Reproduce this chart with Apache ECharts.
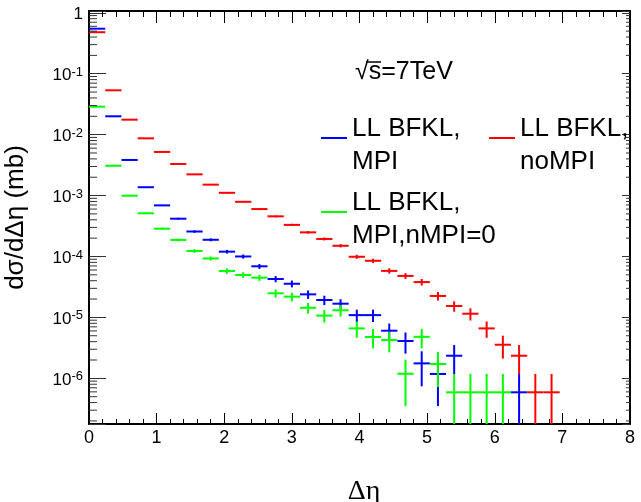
<!DOCTYPE html>
<html><head><meta charset="utf-8">
<script src="https://cdn.jsdelivr.net/npm/echarts@6/dist/echarts.min.js"></script>
<style>html,body{margin:0;padding:0;background:#fff}#c{width:641px;height:502px}</style>
</head><body><div id="c"></div>
<script>
// ---- data ----
const binCenters = [0.12,0.36,0.60,0.84,1.08,1.32,1.56,1.80,2.04,2.28,2.52,2.76,3.00,3.24,3.48,3.72,3.96,4.20,4.44,4.68,4.92,5.16,5.40,5.64,5.88,6.12,6.36,6.60,6.84];
const binHalfWidth = 0.12;
const seriesNames = ['LL BFKL,\nMPI', 'LL BFKL,\nnoMPI', 'LL BFKL,\nMPI,nMPI=0'];

const mpiValues = [0.548,0.0200,0.00384,0.00137,0.00069,0.000417,0.000257,0.000188,0.00012,0.0001,6.9e-5,4.27e-5,3.57e-5,2.39e-5,1.93e-5,1.68e-5,1.09e-5,1.09e-5,6.05e-6,4.1e-6,1.76e-6,1.18e-6,2.35e-6,null,null,null,5.9e-7,null,null];
const mpiErrors = [5.7e-4,1.09e-4,4.8e-5,2.8e-5,2.0e-5,1.57e-5,1.23e-5,1.05e-5,8.4e-6,7.7e-6,6.4e-6,5.0e-6,4.6e-6,3.8e-6,3.4e-6,3.1e-6,2.5e-6,2.5e-6,1.89e-6,1.56e-6,1.02e-6,8.3e-7,1.18e-6,null,null,null,5.9e-7,null,null];

const noMpiValues = [0.48,0.0534,0.0176,0.0087,0.0052,0.0033,0.00223,0.00151,0.00111,0.00079,0.0006,0.000456,0.00033,0.000249,0.000194,0.00015,9.9e-5,8.5e-5,5.8e-5,4.8e-5,3.8e-5,2.25e-5,1.54e-5,1.15e-5,6.6e-6,3.56e-6,2.35e-6,5.9e-7,5.9e-7];
const noMpiErrors = [5.3e-4,1.77e-4,1.02e-4,7.2e-5,5.5e-5,4.4e-5,3.6e-5,3.0e-5,2.56e-5,2.16e-5,1.88e-5,1.64e-5,1.4e-5,1.21e-5,1.07e-5,9.4e-6,7.6e-6,7.1e-6,5.8e-6,5.3e-6,4.7e-6,3.6e-6,3.0e-6,2.6e-6,1.97e-6,1.45e-6,1.18e-6,5.9e-7,5.9e-7];

const nMpi0Values = [0.0288,0.00309,0.000995,0.000512,0.000286,0.000187,0.000123,9.27e-5,5.78e-5,4.97e-5,4.49e-5,2.49e-5,2.19e-5,1.44e-5,1.07e-5,1.31e-5,6.6e-6,4.77e-6,4.25e-6,1.19e-6,4.8e-6,1.72e-6,5.9e-7,5.9e-7,5.9e-7,5.9e-7,null,null,null];
const nMpi0Errors = [1.3e-4,4.3e-5,2.4e-5,1.74e-5,1.3e-5,1.05e-5,8.5e-6,7.4e-6,5.8e-6,5.4e-6,5.1e-6,3.8e-6,3.6e-6,2.9e-6,2.5e-6,2.8e-6,1.97e-6,1.68e-6,1.58e-6,8.4e-7,1.68e-6,1.0e-6,5.9e-7,5.9e-7,5.9e-7,5.9e-7,null,null,null];

const xTickLabels = ['0','1','2','3','4','5','6','7','8'];
const yDecadeExponents = [-6,-5,-4,-3,-2,-1,0];
const X_MIN = 0, X_MAX = 8;
const Y_MIN = 1.78e-7, Y_MAX = 1.07;

// minor log ticks 2..9 x 10^n
const yMinorTicks = [];
for (let d = -7; d <= -1; d++) for (let m = 2; m <= 9; m++) {
  const t = m * Math.pow(10, d);
  if (t > Y_MIN && t < Y_MAX) yMinorTicks.push(t);
}

function buildData(vals, errs) {
  const out = [];
  for (let i = 0; i < binCenters.length; i++) if (vals[i] != null) out.push([binCenters[i], vals[i], errs[i]]);
  return out;
}

function pointRenderer(color) {
  return function (params, api) {
    const x = api.value(0), v = api.value(1), e = api.value(2);
    const l = api.coord([x - binHalfWidth, v]);
    const r = api.coord([x + binHalfWidth, v]);
    const top = api.coord([x, Math.min(v + e, Y_MAX)]);
    const low = v - e;
    const bot = api.coord([x, low > Y_MIN ? low : Y_MIN]);
    return { type: 'group', children: [
      { type: 'line', shape: { x1: l[0], y1: l[1], x2: r[0], y2: r[1] }, style: { stroke: color, lineWidth: 2 } },
      { type: 'line', shape: { x1: top[0], y1: top[1], x2: bot[0], y2: bot[1] }, style: { stroke: color, lineWidth: 2 } }
    ]};
  };
}

const FONT = 'Liberation Sans, Arial, Helvetica, sans-serif';

function yLabel(val) {
  const lg = Math.log10(val);
  const ex = Math.round(lg);
  if (Math.abs(lg - ex) > 1e-6 || yDecadeExponents.indexOf(ex) < 0) return '';
  if (ex === 0) return '{b|1}';
  return '{b|10}{s|' + ex + '}';
}

const legendCommon = {
  orient: 'vertical', padding: 0, icon: 'rect', itemWidth: 26, itemHeight: 2,
  selectedMode: false,
  formatter: function (name) {
    return '{sp| }\n' + name.split('\n').map(function (s) { return '{t|' + s + '}'; }).join('\n');
  },
  textStyle: { fontSize: 26, fontFamily: FONT, color: '#000',
    rich: { sp: { fontSize: 2, lineHeight: 14 }, t: { fontSize: 26, lineHeight: 33, fontFamily: FONT, color: '#000' } } }
};

const chart = echarts.init(document.getElementById('c'), null, { renderer: 'canvas' });
chart.setOption({
  backgroundColor: '#fff',
  animation: false,
  textStyle: { fontFamily: FONT },
  grid: { left: 89, right: 11, top: 11, bottom: 78, containLabel: false, outerBoundsMode: 'none' },
  legend: [
    Object.assign({}, legendCommon, { left: 321, top: 104, data: [seriesNames[0]] }),
    Object.assign({}, legendCommon, { left: 489, top: 104, data: [seriesNames[1]] }),
    Object.assign({}, legendCommon, { left: 321, top: 178, data: [seriesNames[2]] })
  ],
  graphic: [
    { type: 'text', left: 355, top: 60, style: { text: '√s=7TeV', fontSize: 25, fontFamily: FONT, fill: '#000' } },
    { type: 'line', shape: { x1: 366, y1: 62, x2: 381, y2: 62 }, style: { stroke: '#000', lineWidth: 1.5 } }
  ],
  xAxis: [
    { type: 'value', position: 'bottom', min: X_MIN, max: X_MAX, interval: 1,
      axisLine: { show: true, onZero: false, lineStyle: { color: '#000', width: 2 } },
      axisTick: { show: true, inside: true, length: 11, lineStyle: { color: '#000', width: 1 } },
      minorTick: { show: true, splitNumber: 5, length: 5, lineStyle: { color: '#000', width: 1 } },
      splitLine: { show: false },
      axisLabel: { show: true, margin: 5, fontSize: 18, color: '#000', fontFamily: FONT,
        formatter: function (v) { const i = Math.round(v); return (Math.abs(v - i) < 1e-9 && xTickLabels[i] != null) ? xTickLabels[i] : ''; } },
      name: 'Δη', nameLocation: 'middle', nameGap: 54,
      nameTextStyle: { fontSize: 28, fontFamily: 'Liberation Serif, Times New Roman, serif', color: '#000', padding: [0, 0, 0, 9] } },
    { type: 'value', position: 'top', min: X_MIN, max: X_MAX, interval: 1,
      axisLine: { show: true, onZero: false, lineStyle: { color: '#000', width: 2 } },
      axisTick: { show: true, inside: true, length: 12, lineStyle: { color: '#000', width: 1 } },
      minorTick: { show: true, splitNumber: 5, length: 6, lineStyle: { color: '#000', width: 1 } },
      splitLine: { show: false }, axisLabel: { show: false } }
  ],
  yAxis: [
    { type: 'log', logBase: 10, position: 'left', min: Y_MIN, max: Y_MAX,
      axisLine: { show: true, onZero: false, lineStyle: { color: '#000', width: 2 } },
      axisTick: { show: true, inside: true, length: 17, lineStyle: { color: '#333', width: 1 } },
      minorTick: { show: false }, splitLine: { show: false },
      axisLabel: { show: true, margin: 6, color: '#000', formatter: yLabel, padding: [4, 0, 0, 0],
        rich: { b: { fontSize: 17, lineHeight: 20, fontFamily: FONT, color: '#000' },
                s: { fontSize: 13, lineHeight: 14, fontFamily: FONT, color: '#000', verticalAlign: 'top' } } },
      name: 'dσ/dΔη (mb)', nameLocation: 'middle', nameGap: 60,
      nameTextStyle: { fontSize: 26, fontFamily: FONT, color: '#000' } },
    { type: 'log', logBase: 10, position: 'right', min: Y_MIN, max: Y_MAX,
      axisLine: { show: true, onZero: false, lineStyle: { color: '#000', width: 2 } },
      axisTick: { show: true, inside: true, length: 8, lineStyle: { color: '#333', width: 1 } },
      minorTick: { show: false }, splitLine: { show: false }, axisLabel: { show: false } }
  ],
  series: [
    { type: 'custom', name: seriesNames[0], xAxisIndex: 0, yAxisIndex: 0, itemStyle: { color: '#0000ff' },
      renderItem: pointRenderer('#0000ff'), data: buildData(mpiValues, mpiErrors), z: 3 },
    { type: 'custom', name: seriesNames[1], xAxisIndex: 0, yAxisIndex: 0, itemStyle: { color: '#ff0000' },
      renderItem: pointRenderer('#ff0000'), data: buildData(noMpiValues, noMpiErrors), z: 3 },
    { type: 'custom', name: seriesNames[2], xAxisIndex: 0, yAxisIndex: 0, itemStyle: { color: '#00ff00' },
      renderItem: pointRenderer('#00ff00'), data: buildData(nMpi0Values, nMpi0Errors), z: 3 },
    { type: 'custom', name: 'yMinorTicks', xAxisIndex: 0, yAxisIndex: 0, silent: true, z: 5,
      renderItem: function (params, api) {
        const t = api.value(0);
        const p = api.coord([X_MIN, t]);
        const q = api.coord([X_MAX, t]);
        return { type: 'group', children: [
          { type: 'line', shape: { x1: p[0], y1: p[1], x2: p[0] + 8, y2: p[1] }, style: { stroke: '#333', lineWidth: 1 } },
          { type: 'line', shape: { x1: q[0] - 4, y1: q[1], x2: q[0], y2: q[1] }, style: { stroke: '#333', lineWidth: 1 } }
        ]};
      },
      encode: { x: 1, y: 0 },
      data: yMinorTicks.map(function (t) { return [t, X_MIN]; }) }
  ]
});
</script></body></html>
